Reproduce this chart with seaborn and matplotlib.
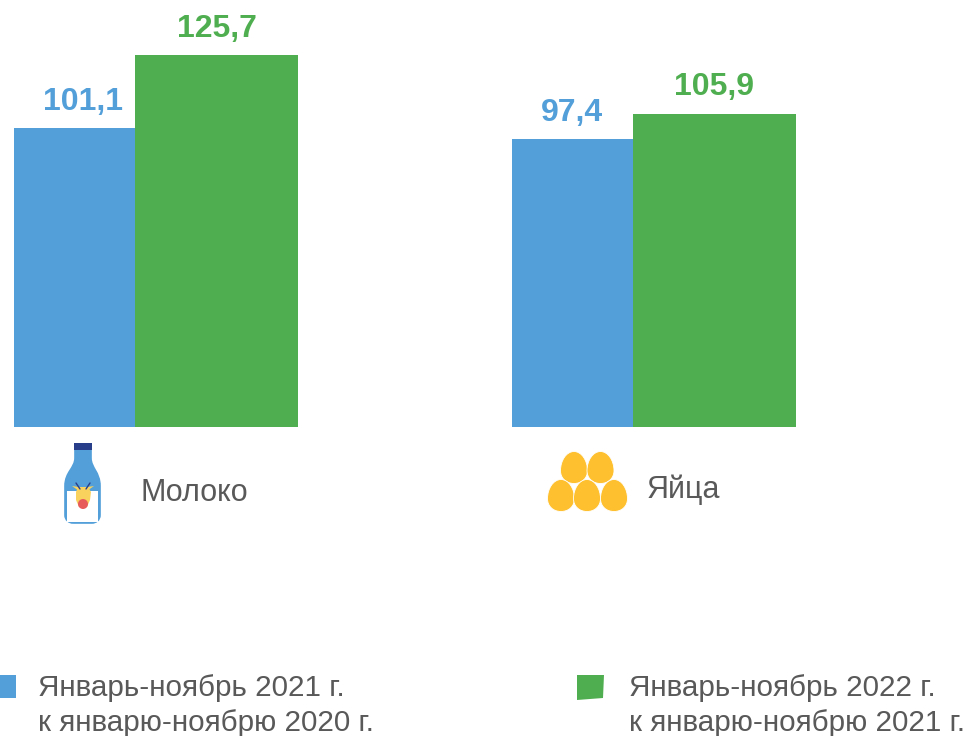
"""Молоко и яйца: индексы производства, столбцы с подписями и значками."""

import matplotlib

matplotlib.use("Agg")
import matplotlib.pyplot as plt
import pandas as pd
import seaborn as sns
from matplotlib.patches import Circle, PathPatch, Polygon, Rectangle
from matplotlib.path import Path

categories = ["Молоко", "Яйца"]
series_names = ["2021", "2022"]
values_2021 = [101.1, 97.4]
values_2022 = [125.7, 105.9]
value_labels_2021 = ["101,1", "97,4"]
value_labels_2022 = ["125,7", "105,9"]
legend_labels = [
    "Январь-ноябрь 2021 г.\nк январю-ноябрю 2020 г.",
    "Январь-ноябрь 2022 г.\nк январю-ноябрю 2021 г.",
]

BLUE = "#529FD9"
GREEN = "#4FAF50"
GRAY = "#595959"
YELLOW = "#FEC02F"
FACE = "#F9D25E"
NAVY = "#283E8A"
W, H = 969, 736
CAT_STEP = 498  # пикселей между группами
PX_PER_UNIT = 2.96
BASELINE = 427


def egg(ax, cx, cy, w, h):
    """Яйцо: узкий верх, широкий низ (координаты в пикселях)."""
    top, bot = cy - h / 2, cy + h / 2
    mid = cy + h * 0.1
    verts = [
        (cx, top),
        (cx + w * 0.28, top), (cx + w / 2, mid - h * 0.32), (cx + w / 2, mid),
        (cx + w / 2, mid + h * 0.24), (cx + w * 0.28, bot), (cx, bot),
        (cx - w * 0.28, bot), (cx - w / 2, mid + h * 0.24), (cx - w / 2, mid),
        (cx - w / 2, mid - h * 0.32), (cx - w * 0.28, top), (cx, top),
    ]
    codes = [Path.MOVETO] + [Path.CURVE4] * 12
    ax.add_patch(PathPatch(Path(verts, codes), fc=YELLOW, ec="white", lw=0.6))


def bottle(ax):
    """Бутылка молока с головой коровы."""
    L, C = Path.LINETO, Path.CURVE4
    body = Path(
        [(75, 449), (91, 449), (91, 458),
         (91, 468), (100, 472), (100, 486),
         (100, 515),
         (100, 520), (96, 523), (92, 523),
         (73, 523),
         (69, 523), (65, 520), (65, 515),
         (65, 486),
         (65, 472), (75, 468), (75, 458),
         (75, 449)],
        [Path.MOVETO, L, L, C, C, C, L, C, C, C, L, C, C, C, L, C, C, C, L],
    )
    patch = PathPatch(body, fc=BLUE, ec=BLUE, lw=1.2)
    ax.add_patch(patch)
    # молоко в нижней части
    milk = Rectangle((67, 491), 31, 30.5, fc="white", ec="none")
    ax.add_patch(milk)
    ax.add_patch(Rectangle((74, 443), 18, 7, fc=NAVY, ec="none"))
    # рожки, уши, морда, нос
    ax.plot([76, 80], [483, 489], color=NAVY, lw=1)
    ax.plot([90, 86], [483, 489], color=NAVY, lw=1)
    ax.add_patch(Polygon([(72, 486), (79, 487), (79, 491)], fc=FACE, ec="none"))
    ax.add_patch(Polygon([(94, 486), (87, 487), (87, 491)], fc=FACE, ec="none"))
    ax.add_patch(Polygon(
        [(78, 487), (88, 487), (91, 492), (90, 500), (87, 507), (79, 507), (76, 500), (76, 492)],
        fc=FACE, ec="none",
    ))
    ax.add_patch(Circle((83, 504), 5, fc="#E85B5B", ec="none"))


df = pd.DataFrame({
    "category": categories * 2,
    "series": [series_names[0]] * 2 + [series_names[1]] * 2,
    "value": values_2021 + values_2022,
})

sns.set_theme(style="white")
plt.rcParams["font.family"] = ["Liberation Sans", "DejaVu Sans"]

fig = plt.figure(figsize=(W / 100, H / 100), dpi=100)
ax = fig.add_axes([0, 0, 1, 1])
sns.barplot(
    data=df, x="category", y="value", hue="series", hue_order=series_names,
    palette=[BLUE, GREEN], width=0.57, dodge=True, legend=False, saturation=1,
    linewidth=0, edgecolor="none", ax=ax,
)
ax.set_xlim(-156 / CAT_STEP, (W - 156) / CAT_STEP)
ax.set_ylim(-(H - BASELINE) / PX_PER_UNIT, BASELINE / PX_PER_UNIT)
ax.axis("off")

# Столбцы разной ширины: синий 121 px, зелёный 163 px
blue_w, green_w = 121 / CAT_STEP, 163 / CAT_STEP
blue_offsets = [(6, 8), (-0.5, 8)]  # сдвиг подписей, как в оригинале
green_offsets = [(0, 8), (0, 8)]
for i, (blue_bar, green_bar) in enumerate(zip(ax.containers[0], ax.containers[1])):
    left = i - 142 / CAT_STEP
    blue_bar.set_x(left)
    blue_bar.set_width(blue_w)
    green_bar.set_x(left + blue_w)
    green_bar.set_width(green_w)
    ax.annotate(value_labels_2021[i], (left + blue_w / 2, values_2021[i]),
                xytext=blue_offsets[i], textcoords="offset points", ha="center", va="bottom",
                color=BLUE, fontsize=23, fontweight="bold")
    ax.annotate(value_labels_2022[i], (left + blue_w + green_w / 2, values_2022[i]),
                xytext=green_offsets[i], textcoords="offset points", ha="center", va="bottom",
                color=GREEN, fontsize=23, fontweight="bold")

# Слой в пикселях для значков и легенды
px = fig.add_axes([0, 0, 1, 1], facecolor="none")
px.set_xlim(0, W)
px.set_ylim(H, 0)
px.axis("off")

bottle(px)
for cx, cy in [(574, 467.5), (600.5, 467.5), (561, 495.5), (587, 495.5), (614, 495.5)]:
    egg(px, cx, cy, 27, 32)

px.text(141, 493, categories[0], color=GRAY, fontsize=22, va="center", ha="left")
px.text(647, 490, categories[1], color=GRAY, fontsize=22, va="center", ha="left")

px.add_patch(Rectangle((0, 675), 16, 23, fc=BLUE, ec="none"))
px.add_patch(Polygon([(577, 675), (604, 675), (603, 698), (577, 700)], fc=GREEN, ec="none"))
px.text(38, 705.5, legend_labels[0], color=GRAY, fontsize=21.3, va="center", ha="left", linespacing=1.33)
px.text(629, 705.5, legend_labels[1], color=GRAY, fontsize=21.3, va="center", ha="left", linespacing=1.33)

fig.savefig("out.png", dpi=100)
